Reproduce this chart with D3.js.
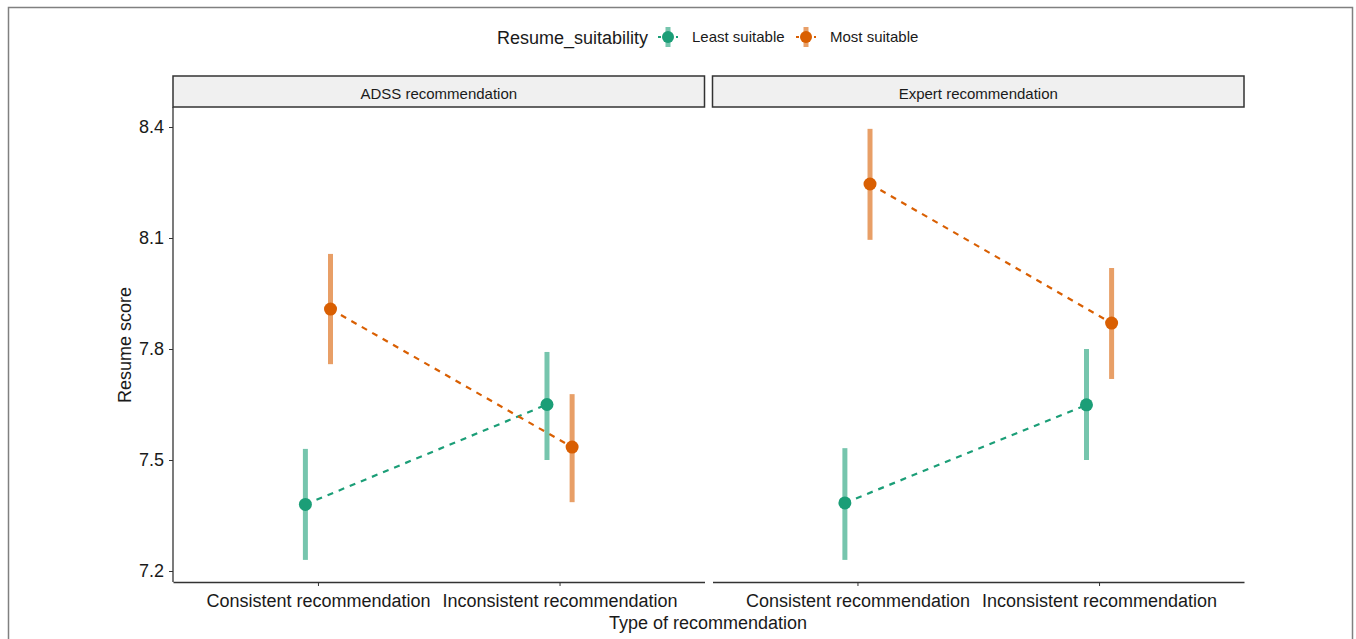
<!DOCTYPE html>
<html>
<head>
<meta charset="utf-8">
<script src="https://cdn.jsdelivr.net/npm/d3@7"></script>
<style>
  body { margin: 0; background: #fff; }
  text { font-family: "Liberation Sans", Arial, sans-serif; }
</style>
</head>
<body>
<div id="chart"></div>
<script>
// data
const panels = ["ADSS recommendation", "Expert recommendation"];
const recTypes = ["Consistent recommendation", "Inconsistent recommendation"];
const groups = ["Least suitable", "Most suitable"];
const yTicks = [7.2, 7.5, 7.8, 8.1, 8.4];

// mean, lower, upper per panel, per group, per rec type
const leastMean = [[7.38, 7.65], [7.384, 7.649]];
const leastLow  = [[7.23, 7.50], [7.23, 7.50]];
const leastHigh = [[7.53, 7.792], [7.532, 7.80]];
const mostMean  = [[7.908, 7.535], [8.246, 7.870]];
const mostLow   = [[7.759, 7.386], [8.095, 7.719]];
const mostHigh  = [[8.057, 7.678], [8.395, 8.019]];

const colors = { "Least suitable": "#1B9E77", "Most suitable": "#D95F02" };

const W = 1356, H = 639;
const svg = d3.select("#chart").append("svg")
    .attr("width", W).attr("height", H);

// outer frame
svg.append("rect")
    .attr("x", 8.5).attr("y", 7.5).attr("width", 1344).attr("height", 640)
    .attr("fill", "none").attr("stroke", "#808080").attr("stroke-width", 1.5);

const panelX = [173, 712.5];
const panelW = 531.5;
const plotTop = 107, plotBottom = 582;

const y = d3.scaleLinear().domain([7.2, 8.4]).range([571, 127]);

function rows(p) {
    const out = [];
    groups.forEach((g, gi) => {
        const m = gi === 0 ? leastMean : mostMean;
        const lo = gi === 0 ? leastLow : mostLow;
        const hi = gi === 0 ? leastHigh : mostHigh;
        recTypes.forEach((r, ri) => {
            out.push({ group: g, rec: r, mean: m[p][ri], low: lo[p][ri], high: hi[p][ri] });
        });
    });
    return out;
}

const dodge = 0.052;

panels.forEach((pname, p) => {
    const x0 = panelX[p];
    const x = d3.scalePoint().domain(recTypes)
        .range([x0, x0 + panelW]).padding(0.6);
    const step = x.step();
    const xd = d => x(d.rec) + (d.group === groups[0] ? -dodge : dodge) * step;

    // strip
    const g = svg.append("g");
    g.append("rect")
        .attr("x", x0).attr("y", 76).attr("width", panelW).attr("height", 31)
        .attr("fill", "#F0F0F0").attr("stroke", "#333").attr("stroke-width", 1.5);
    g.append("text")
        .attr("x", x0 + panelW / 2).attr("y", 93)
        .attr("text-anchor", "middle").attr("dominant-baseline", "central")
        .style("font-size", "15px").attr("fill", "#1a1a1a")
        .text(pname);

    // x axis
    const xa = g.append("g").attr("transform", `translate(0,${plotBottom})`)
        .call(d3.axisBottom(x).tickSize(4).tickSizeOuter(0));
    xa.select(".domain").attr("stroke", "#333").attr("stroke-width", 1.3);
    xa.selectAll(".tick line").attr("stroke", "#333");
    xa.selectAll(".tick text").attr("dy", "1.0em")
        .style("font-size", "18px").attr("fill", "#1a1a1a");

    if (p === 0) {
        const ya = g.append("g").attr("transform", `translate(${x0},0)`)
            .call(d3.axisLeft(y).tickValues(yTicks).tickFormat(d3.format(".1f")).tickSize(4).tickSizeOuter(0));
        ya.select(".domain").attr("d", `M0,${plotTop}V${plotBottom}`).attr("stroke", "#333").attr("stroke-width", 1.3);
        ya.selectAll(".tick line").attr("stroke", "#333");
        ya.selectAll(".tick text").attr("x", -9)
            .style("font-size", "18px").attr("fill", "#1a1a1a");
    }

    const data = rows(p);

    // dashed lines
    groups.forEach(grp => {
        const pts = data.filter(d => d.group === grp);
        g.append("path")
            .datum(pts)
            .attr("d", d3.line().x(xd).y(d => y(d.mean)))
            .attr("fill", "none").attr("stroke", colors[grp])
            .attr("stroke-width", 2.2).attr("stroke-dasharray", "6,6");
    });

    // error bars
    g.selectAll(".err").data(data).join("line")
        .attr("x1", xd).attr("x2", xd)
        .attr("y1", d => y(d.low)).attr("y2", d => y(d.high))
        .attr("stroke", d => colors[d.group]).attr("stroke-opacity", 0.6)
        .attr("stroke-width", 5);

    // points
    g.selectAll(".pt").data(data).join("circle")
        .attr("cx", xd).attr("cy", d => y(d.mean)).attr("r", 6.5)
        .attr("fill", d => colors[d.group]);
});

// axis titles
svg.append("text")
    .attr("x", 708).attr("y", 629)
    .attr("text-anchor", "middle")
    .style("font-size", "18px").attr("fill", "#1a1a1a")
    .text("Type of recommendation");
svg.append("text")
    .attr("transform", "translate(131,345) rotate(-90)")
    .attr("text-anchor", "middle")
    .style("font-size", "18px").attr("fill", "#1a1a1a")
    .text("Resume score");

// legend
const leg = svg.append("g");
leg.append("text")
    .attr("x", 497).attr("y", 44)
    .style("font-size", "18px").attr("fill", "#1a1a1a")
    .text("Resume_suitability");
const keyX = [668, 806];
groups.forEach((grp, i) => {
    const kx = keyX[i], ky = 37;
    leg.append("line")
        .attr("x1", kx - 10).attr("x2", kx + 10).attr("y1", ky).attr("y2", ky)
        .attr("stroke", colors[grp]).attr("stroke-width", 2).attr("stroke-dasharray", "3,3");
    leg.append("line")
        .attr("x1", kx).attr("x2", kx).attr("y1", ky - 10).attr("y2", ky + 10)
        .attr("stroke", colors[grp]).attr("stroke-opacity", 0.6).attr("stroke-width", 5);
    leg.append("circle")
        .attr("cx", kx).attr("cy", ky).attr("r", 6)
        .attr("fill", colors[grp]);
    leg.append("text")
        .attr("x", kx + 24).attr("y", ky + 5)
        .style("font-size", "15px").attr("fill", "#1a1a1a")
        .text(grp);
});
</script>
</body>
</html>
